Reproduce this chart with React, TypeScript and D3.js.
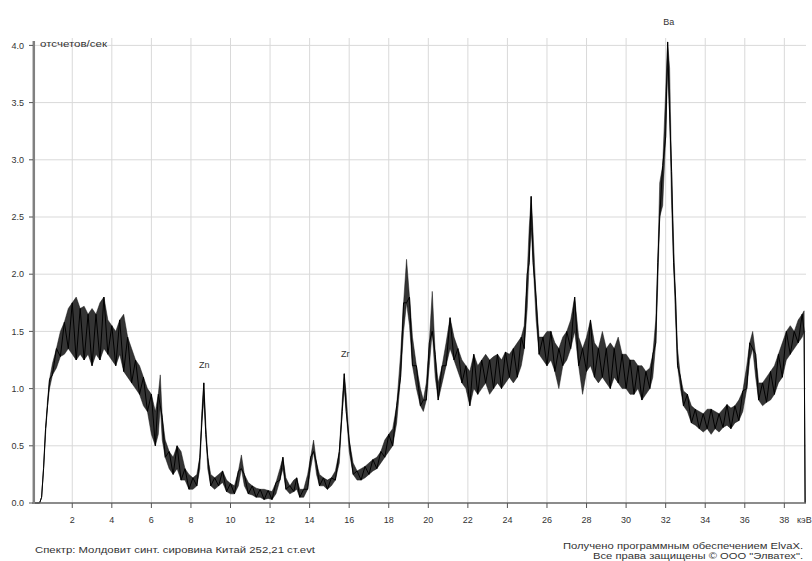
import React from 'react';
import * as d3 from 'd3';

// Spectrum samples: energy (keV), lower and upper envelope of the noisy trace (counts/sec)
const energy = [
  0.0, 0.2, 0.35, 0.45, 0.55, 0.65, 0.75, 0.85, 1.0, 1.2,
  1.4, 1.6, 1.8, 2.0, 2.2, 2.4, 2.6, 2.8, 3.0, 3.2,
  3.4, 3.6, 3.8, 4.0, 4.2, 4.4, 4.6, 4.8, 5.0, 5.2,
  5.4, 5.6, 5.8, 6.0, 6.2, 6.35, 6.45, 6.55, 6.7, 6.9,
  7.1, 7.3, 7.5, 7.7, 7.9, 8.1, 8.3, 8.45, 8.55, 8.65,
  8.75, 8.85, 9.0, 9.2, 9.4, 9.6, 9.8, 10.0, 10.2, 10.4,
  10.55, 10.7, 10.9, 11.1, 11.3, 11.5, 11.7, 11.9, 12.1, 12.3,
  12.5, 12.65, 12.8, 13.0, 13.2, 13.35, 13.5, 13.7, 13.9, 14.05,
  14.2, 14.35, 14.5, 14.7, 14.9, 15.1, 15.3, 15.5, 15.65, 15.75,
  15.85, 16.0, 16.2, 16.4, 16.6, 16.8, 17.0, 17.2, 17.4, 17.6,
  17.8, 18.0, 18.2, 18.4, 18.6, 18.75, 18.9, 19.05, 19.2, 19.4,
  19.6, 19.75, 19.9, 20.05, 20.2, 20.35, 20.5, 20.7, 20.9, 21.1,
  21.3, 21.5, 21.7, 21.9, 22.1, 22.3, 22.5, 22.7, 22.9, 23.1,
  23.3, 23.5, 23.7, 23.9, 24.1, 24.3, 24.5, 24.7, 24.85, 25.0,
  25.1, 25.2, 25.3, 25.45, 25.6, 25.8, 26.0, 26.2, 26.4, 26.6,
  26.8, 27.0, 27.2, 27.4, 27.6, 27.8, 28.0, 28.2, 28.4, 28.6,
  28.8, 29.0, 29.2, 29.4, 29.6, 29.8, 30.0, 30.2, 30.4, 30.6,
  30.8, 31.0, 31.2, 31.35, 31.5, 31.6, 31.7, 31.85, 32.0, 32.1,
  32.2, 32.3, 32.4, 32.5, 32.6, 32.75, 32.9, 33.1, 33.3, 33.5,
  33.7, 33.9, 34.1, 34.3, 34.5, 34.7, 34.9, 35.1, 35.3, 35.5,
  35.7, 35.9, 36.1, 36.25, 36.4, 36.55, 36.7, 36.9, 37.1, 37.3,
  37.5, 37.7, 37.9, 38.1, 38.3, 38.5, 38.7, 38.9, 39.0, 39.05,
];

const lower = [
  0, 0, 0, 0.05, 0.3, 0.6, 0.85, 1.0, 1.12, 1.18,
  1.28, 1.3, 1.35, 1.3, 1.25, 1.3, 1.25, 1.3, 1.2, 1.3,
  1.25, 1.35, 1.3, 1.25, 1.2, 1.3, 1.15, 1.1, 1.05, 1.0,
  0.95, 0.85, 0.8, 0.6, 0.5, 0.6, 0.85, 0.55, 0.4, 0.3,
  0.25, 0.3, 0.2, 0.2, 0.12, 0.12, 0.15, 0.3, 0.7, 0.9,
  0.6, 0.3, 0.15, 0.12, 0.15, 0.18, 0.1, 0.08, 0.08, 0.15,
  0.3, 0.15, 0.08, 0.07, 0.05, 0.05, 0.03, 0.04, 0.03, 0.08,
  0.2, 0.3, 0.12, 0.08, 0.1, 0.12, 0.05, 0.05, 0.12, 0.3,
  0.45, 0.25, 0.15, 0.15, 0.12, 0.15, 0.2, 0.35, 0.8, 1.0,
  0.8, 0.45, 0.25, 0.2, 0.2, 0.22, 0.25, 0.28, 0.3, 0.35,
  0.4, 0.45, 0.5, 0.7, 1.1, 1.5, 1.75, 1.55, 1.2, 1.0,
  0.85, 0.8, 0.9, 1.2, 1.5, 1.1, 0.9, 1.05, 1.2, 1.35,
  1.25, 1.15, 1.05, 1.0, 0.85, 1.0, 0.95, 1.0, 1.05, 0.95,
  1.0, 1.05, 1.0, 1.05, 1.1, 1.05, 1.1, 1.2, 1.35, 1.7,
  2.1, 2.4, 2.1, 1.6, 1.3, 1.25, 1.2, 1.25, 1.15, 1.0,
  1.2, 1.25, 1.35, 1.5, 1.2, 0.95, 1.15, 1.2, 1.1, 1.05,
  1.1, 1.05, 1.0, 1.1, 1.05, 1.0, 1.0, 0.95, 0.95, 1.0,
  0.9, 0.95, 1.0, 1.1, 1.4, 1.9, 2.5, 2.6, 3.2, 3.8,
  3.4, 2.6, 2.1, 1.6, 1.2, 1.0, 0.85, 0.8, 0.7, 0.68,
  0.65, 0.62, 0.65, 0.6, 0.65, 0.62, 0.66, 0.68, 0.65, 0.7,
  0.72, 0.8, 1.0, 1.25, 1.35, 1.1, 0.9, 0.85, 0.88, 0.9,
  0.95, 1.05, 1.1, 1.25, 1.3, 1.35, 1.4, 1.45, 1.5, 0,
];

const upper = [
  0, 0, 0, 0.05, 0.32, 0.65, 0.9, 1.08, 1.22, 1.35,
  1.5, 1.58, 1.7, 1.75, 1.8, 1.7, 1.72, 1.65, 1.7, 1.65,
  1.75, 1.8, 1.6, 1.55, 1.5, 1.6, 1.65, 1.45, 1.35, 1.25,
  1.2, 1.1, 1.0, 0.95, 0.8, 0.95, 1.12, 0.75, 0.55, 0.45,
  0.4, 0.5, 0.45, 0.3, 0.25, 0.22, 0.25, 0.4, 0.8, 1.05,
  0.7, 0.4, 0.25, 0.22, 0.25, 0.28, 0.2, 0.17, 0.15, 0.28,
  0.42, 0.25, 0.18, 0.15, 0.13, 0.12, 0.12, 0.11, 0.1, 0.18,
  0.3, 0.4, 0.22, 0.15, 0.2, 0.22, 0.12, 0.12, 0.25, 0.4,
  0.55, 0.35, 0.25, 0.22, 0.2, 0.22, 0.28, 0.45, 0.9, 1.13,
  0.95, 0.55, 0.35, 0.28, 0.3, 0.32, 0.35, 0.38, 0.4, 0.45,
  0.55, 0.6, 0.65, 0.85, 1.3, 1.75, 2.13, 1.8, 1.45, 1.2,
  1.0, 0.9, 1.05, 1.4, 1.85, 1.3, 1.05, 1.2, 1.4, 1.62,
  1.45, 1.35, 1.25, 1.2, 1.15, 1.3, 1.2, 1.25, 1.3, 1.25,
  1.28, 1.3, 1.25, 1.32, 1.3, 1.35, 1.4, 1.45, 1.55, 2.0,
  2.4, 2.68, 2.35, 1.8, 1.45, 1.45, 1.5, 1.5, 1.4, 1.35,
  1.45, 1.5, 1.6, 1.8, 1.45, 1.35, 1.45, 1.6, 1.4, 1.35,
  1.5, 1.35, 1.4, 1.35, 1.45, 1.3, 1.3, 1.25, 1.25, 1.2,
  1.2, 1.15, 1.18, 1.3, 1.6, 2.1, 2.8, 2.95, 3.6, 4.03,
  3.8, 2.9, 2.3, 1.8, 1.35, 1.1, 0.98, 0.95, 0.85, 0.82,
  0.8, 0.78, 0.82, 0.82, 0.8, 0.78, 0.82, 0.86, 0.83, 0.85,
  0.9, 0.98, 1.2, 1.4, 1.5, 1.3, 1.05, 1.05, 1.1, 1.15,
  1.2, 1.3, 1.4, 1.5, 1.55, 1.5, 1.6, 1.65, 1.68, 0,
];

const yTicks = [0, 0.5, 1.0, 1.5, 2.0, 2.5, 3.0, 3.5, 4.0];
const xTicks = [2, 4, 6, 8, 10, 12, 14, 16, 18, 20, 22, 24, 26, 28, 30, 32, 34, 36, 38];

const peakNames = ['Zn', 'Zr', 'Ba'];
const peakEnergy = [8.62, 15.75, 32.1];
const peakTop = [1.03, 1.13, 4.03];

const yTitle = 'отсчетов/сек';
const xUnit = 'кэВ';
const footLeft = 'Спектр: Молдовит синт. сировина Китай 252,21 ст.evt';
const footRight1 = 'Получено программным обеспечением ElvaX.';
const footRight2 = 'Все права защищены © ООО "Элватех".';

const W = 812;
const H = 561;
const FONT = '"Liberation Sans", Arial, sans-serif';

export default function App() {
  const x = d3.scaleLinear().domain([0, 39.1]).range([32.7, 806.1]);
  const y = d3.scaleLinear().domain([0, 4]).range([503, 45.4]);

  const pts: [number, number][] = energy.map((e, i) => [e, i % 2 === 0 ? lower[i] : upper[i]]);
  const line = d3.line<[number, number]>().x(d => x(d[0])).y(d => y(d[1]));
  const band = d3
    .area<number>()
    .x((_, i) => x(energy[i]))
    .y0((_, i) => y(lower[i]))
    .y1((_, i) => y(upper[i]));

  const xLeft = x(0) + 1;
  const xRight = 806;
  const yBase = y(0);

  return (
    <div style={{ position: 'absolute', left: 0, top: 0, width: W, height: H, background: '#fff' }}>
      <svg width={W} height={H} style={{ display: 'block' }} fontFamily={FONT}>
        <rect x={0} y={0} width={W} height={H} fill="#fff" />
        {/* grid */}
        {xTicks.map(t => (
          <line key={'gx' + t} x1={x(t)} x2={x(t)} y1={38} y2={yBase} stroke="#d9d9d9" strokeWidth={1} />
        ))}
        {yTicks.filter(t => t > 0).map(t => (
          <line key={'gy' + t} x1={xLeft} x2={xRight} y1={y(t)} y2={y(t)} stroke="#d9d9d9" strokeWidth={1} />
        ))}
        {/* spectrum */}
        <path d={band(energy) || ''} fill="#111" fillOpacity={0.85} stroke="#111" strokeWidth={0.6} strokeOpacity={0.8} />
        <path d={line(pts) || ''} fill="none" stroke="#000" strokeWidth={1} strokeLinejoin="round" />
        {/* axes */}
        <line x1={xLeft} x2={xRight} y1={yBase} y2={yBase} stroke="#666" strokeWidth={1.5} />
        <line x1={33.8} x2={33.8} y1={41} y2={yBase + 1} stroke="#808080" strokeWidth={2.5} />
        {yTicks.map(t => (
          <g key={'yt' + t}>
            <line x1={29} x2={33} y1={y(t)} y2={y(t)} stroke="#555" strokeWidth={1} />
            <text x={24} y={y(t)} dy="0.35em" textAnchor="end" fontSize={9} fill="#333">
              {t.toFixed(1)}
            </text>
          </g>
        ))}
        {xTicks.map(t => (
          <g key={'xt' + t}>
            <line x1={x(t)} x2={x(t)} y1={yBase} y2={yBase + 5} stroke="#555" strokeWidth={1} />
            <text x={x(t)} y={520} dy="0.35em" textAnchor="middle" fontSize={9} fill="#333">
              {t}
            </text>
          </g>
        ))}
        <text x={797} y={520} dy="0.35em" fontSize={9} fill="#333">{xUnit}</text>
        <text x={40} y={44} dy="0.35em" fontSize={9} fill="#333" textLength={67} lengthAdjust="spacingAndGlyphs">{yTitle}</text>
        {/* peak labels */}
        {peakNames.map((n, i) => (
          <text key={n} x={x(peakEnergy[i]) + 1} y={y(peakTop[i]) - 20} dy="0.35em" textAnchor="middle" fontSize={9} fill="#333">
            {n}
          </text>
        ))}
        {/* footer */}
        <text x={35} y={550} dy="0.35em" fontSize={9} fill="#333" textLength={280} lengthAdjust="spacingAndGlyphs">{footLeft}</text>
        <text x={563} y={546} dy="0.35em" fontSize={9} fill="#333" textLength={240} lengthAdjust="spacingAndGlyphs">{footRight1}</text>
        <text x={593} y={556} dy="0.35em" fontSize={9} fill="#333" textLength={210} lengthAdjust="spacingAndGlyphs">{footRight2}</text>
      </svg>
    </div>
  );
}
